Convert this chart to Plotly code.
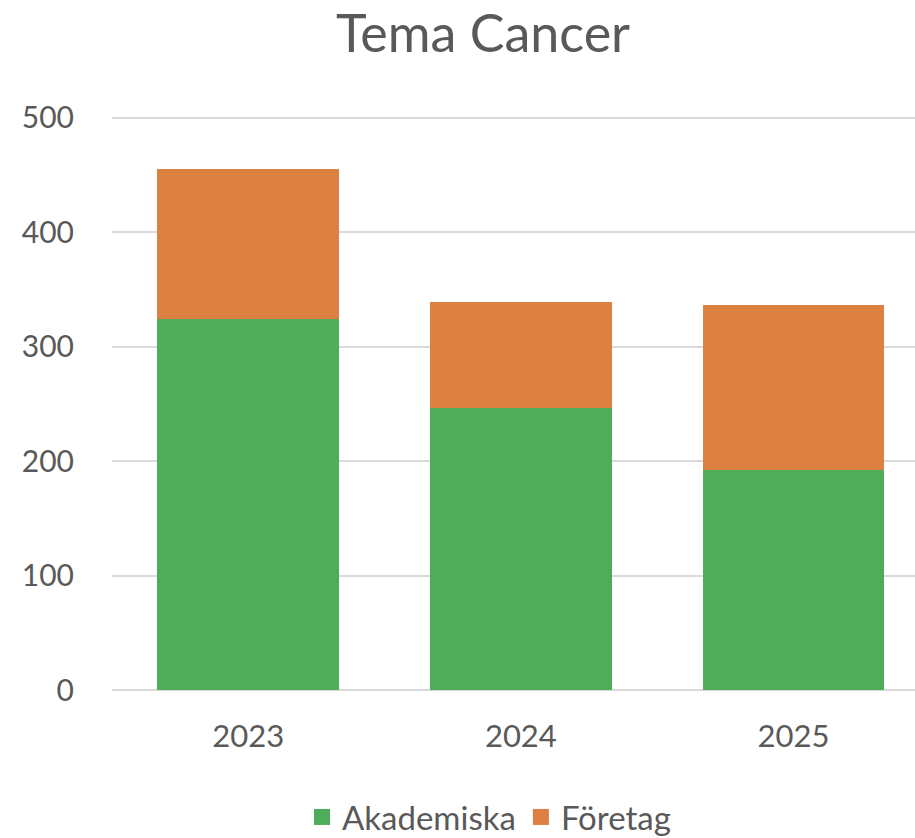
import plotly.graph_objects as go

years = ["2023", "2024", "2025"]
akademiska = [324, 246, 192]
foretag = [131, 93, 144]
y_ticks = [0, 100, 200, 300, 400, 500]

GREEN = "#4eac5b"
ORANGE = "#dd8143"
TEXT = "#595959"
FONT = "Lato"
W, H = 915, 838

fig = go.Figure()
fig.add_trace(go.Bar(x=years, y=akademiska, name="Akademiska", marker_color=GREEN,
                     marker_line_width=0, showlegend=False))
fig.add_trace(go.Bar(x=years, y=foretag, name="Företag", marker_color=ORANGE,
                     marker_line_width=0, showlegend=False))
# legend entries with larger square symbols
for name, col in [("Akademiska", GREEN), ("Företag", ORANGE)]:
    fig.add_trace(go.Scatter(x=[None], y=[None], mode="markers", name=name,
                             marker=dict(symbol="square", size=21, color=col), showlegend=True))

fig.update_layout(
    width=W, height=H,
    barmode="stack", bargap=0.333,
    paper_bgcolor="white", plot_bgcolor="white",
    margin=dict(l=112, r=0, t=112, b=148),
    title=dict(text="Tema Cancer", x=483 / W, xref="container", xanchor="center",
               y=1 - 34 / H, yref="container", yanchor="middle",
               font=dict(family=FONT, size=52, color=TEXT)),
    font=dict(family=FONT, color=TEXT),
    showlegend=True,
    legend=dict(orientation="h", x=489 / W, xref="container", xanchor="center",
                y=1 - 817 / H, yref="container", yanchor="middle",
                font=dict(size=33, color=TEXT), traceorder="normal", itemwidth=30),
)

fig.update_xaxes(range=[-0.5, 2.446], showgrid=False, showline=False, ticks="",
                 tickfont=dict(size=31, color=TEXT, family=FONT), ticklabelstandoff=25)
fig.update_yaxes(range=[0, 505], tickvals=y_ticks, showgrid=True, gridcolor="#d9d9d9", gridwidth=2,
                 zeroline=True, zerolinecolor="#d9d9d9", zerolinewidth=2, showline=False,
                 tickfont=dict(size=30, color=TEXT, family=FONT), ticklabelstandoff=37)

fig.write_html("out.html", config={"displayModeBar": False},
               post_script="document.body.style.margin='0px';")
